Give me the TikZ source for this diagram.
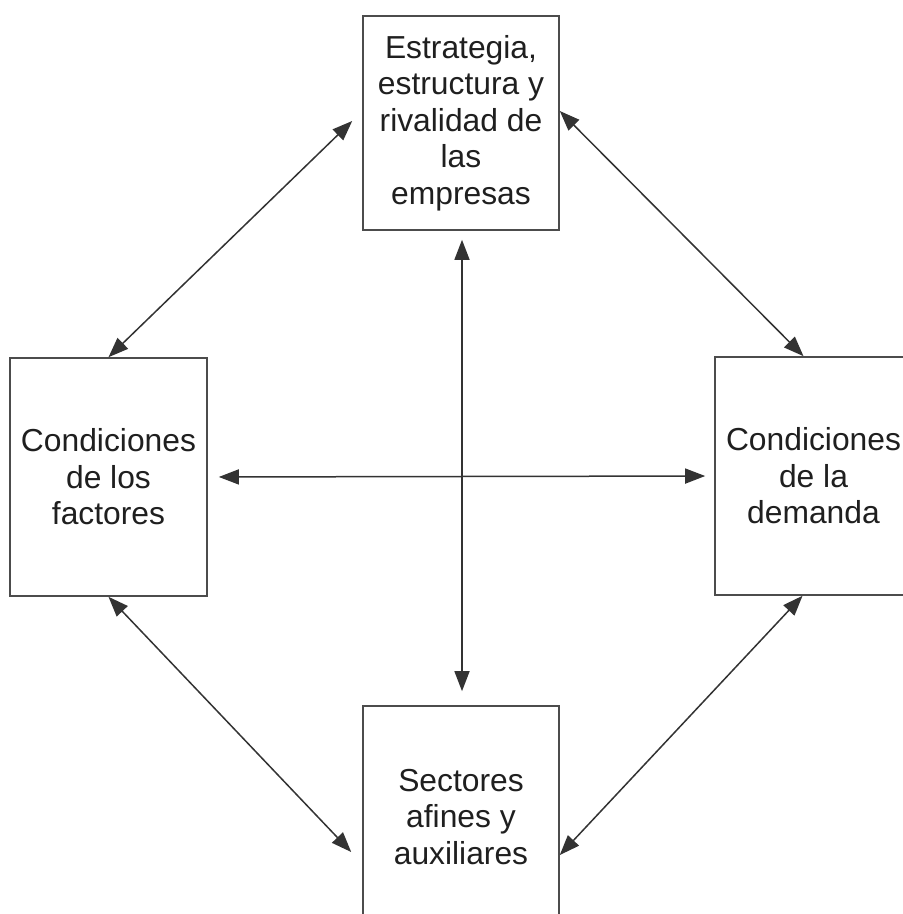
\documentclass[tikz,border=0pt]{standalone}
\usepackage{fontspec}
\setmainfont{Liberation Sans}
\usetikzlibrary{arrows.meta}

\begin{document}
\begin{tikzpicture}[x = .5pt, y = -.5pt,
  caja/.style = {draw = black!70, line width = .8pt, align = center, text = black!88,
    font = \fontsize{15.9}{18.2}\selectfont, inner sep = 0pt},
  flecha/.style = {{Triangle[length = 10pt, width = 7.5pt]}-{Triangle[length = 10pt, width = 7.5pt]},
    draw = black!80, line width = .75pt}]
\useasboundingbox (0,0) rectangle (903,914);
\clip (0,0) rectangle (903,914);
\node[caja, minimum width = 98pt, minimum height = 107pt] (estrategia) at (461,123)
  {Estrategia,\\estructura y\\rivalidad de\\las\\empresas};
\node[caja, minimum width = 98.5pt, minimum height = 119pt] (factores) at (108.5,477)
  {Condiciones\\de los\\factores};
\node[caja, minimum width = 98.5pt, minimum height = 119pt] (demanda) at (813.5,476)
  {Condiciones\\de la\\demanda};
\node[caja, minimum width = 98pt, minimum height = 111pt] (sectores) at (461,817)
  {Sectores\\afines y\\auxiliares};
\draw[flecha] ([xshift = -5pt, yshift = 1pt]estrategia.west) -- (factores.north);
\draw[flecha] ([yshift = 6pt]estrategia.east) -- ([xshift = -5pt]demanda.north);
\draw[flecha] (factores.south) -- ([xshift = -5.5pt, yshift = -17.5pt]sectores.west);
\draw[flecha] ([xshift = -5.5pt]demanda.south) -- ([yshift = -19pt]sectores.east);
\draw[flecha, shorten <= 5.5pt, shorten >= 4.5pt] (factores.east) -- (demanda.west);
\draw[flecha, shorten <= 4.5pt, shorten >= 7pt] ([xshift = .5pt]estrategia.south) -- ([xshift = .5pt]sectores.north);
\end{tikzpicture}
\end{document}
